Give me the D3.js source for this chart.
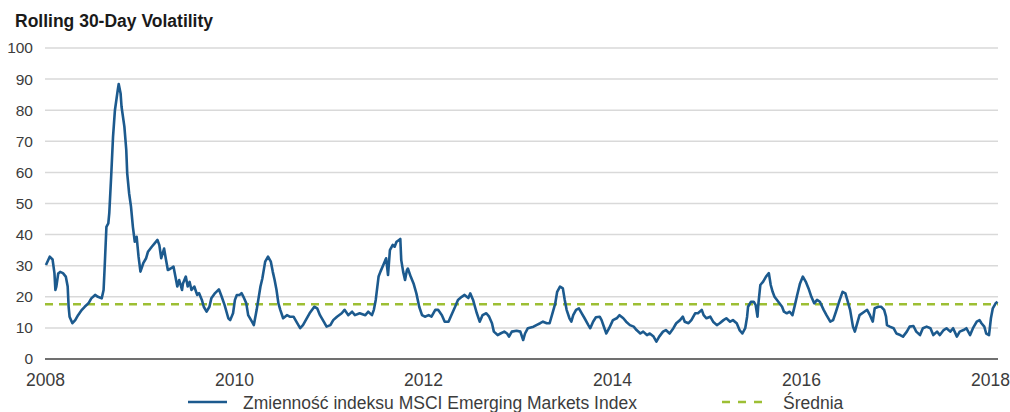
<!DOCTYPE html>
<html>
<head>
<meta charset="utf-8">
<script src="https://cdn.jsdelivr.net/npm/d3@7"></script>
<style>
  html, body { margin: 0; padding: 0; background: #fff; }
  svg { display: block; font-family: "Liberation Sans", Arial, sans-serif; }
</style>
</head>
<body>
<svg id="chart" width="1010" height="412"></svg>
<script>
const title = "Rolling 30-Day Volatility";
const seriesName = "Zmienność indeksu MSCI Emerging Markets Index";
const meanName = "Średnia";
const meanValue = 17.6;
const xTickValues = [2008, 2010, 2012, 2014, 2016, 2018];
const xTickLabels = ["2008", "2010", "2012", "2014", "2016", "2018"];
const yTickValues = [0, 10, 20, 30, 40, 50, 60, 70, 80, 90, 100];

const years = [
  2008.01,2008.05,2008.08,2008.10,2008.11,2008.12,2008.14,2008.16,2008.19,2008.22,
  2008.24,2008.25,2008.26,2008.29,2008.32,2008.35,2008.39,2008.42,2008.46,2008.49,
  2008.53,2008.56,2008.60,2008.62,2008.63,2008.65,2008.67,2008.68,2008.70,2008.72,
  2008.74,2008.77,2008.78,2008.80,2008.81,2008.84,2008.86,2008.87,2008.89,2008.91,
  2008.93,2008.95,2008.97,2008.99,
  2009.01,2009.04,2009.07,2009.09,2009.13,2009.16,2009.19,2009.21,2009.23,2009.26,
  2009.28,2009.30,2009.33,2009.36,2009.38,2009.40,2009.42,2009.45,2009.46,2009.49,
  2009.51,2009.53,2009.55,2009.58,2009.61,2009.63,2009.66,2009.68,2009.71,2009.74,
  2009.76,2009.80,2009.84,2009.87,2009.90,2009.94,2009.96,2009.99,
  2010.01,2010.03,2010.06,2010.08,2010.10,2010.13,2010.15,2010.19,2010.21,2010.24,
  2010.28,2010.30,2010.33,2010.36,2010.39,2010.41,2010.43,2010.45,2010.47,2010.49,
  2010.52,2010.56,2010.59,2010.63,2010.66,2010.70,2010.73,2010.77,2010.80,2010.85,
  2010.88,2010.91,2010.95,2010.98,
  2011.02,2011.05,2011.09,2011.14,2011.17,2011.21,2011.25,2011.28,2011.33,2011.39,
  2011.42,2011.46,2011.48,2011.50,2011.53,2011.55,2011.58,2011.61,2011.63,2011.65,
  2011.68,2011.70,2011.72,2011.75,2011.76,2011.77,2011.79,2011.81,2011.83,2011.84,
  2011.87,2011.90,2011.93,2011.96,2011.99,
  2012.02,2012.06,2012.09,2012.13,2012.16,2012.20,2012.23,2012.27,2012.30,2012.34,
  2012.37,2012.41,2012.44,2012.48,2012.50,2012.53,2012.55,2012.57,2012.60,2012.63,
  2012.67,2012.70,2012.73,2012.75,2012.79,2012.82,2012.86,2012.89,2012.91,2012.94,
  2012.99,
  2013.03,2013.06,2013.08,2013.11,2013.17,2013.20,2013.24,2013.27,2013.31,2013.34,
  2013.37,2013.40,2013.42,2013.45,2013.48,2013.50,2013.52,2013.55,2013.57,2013.59,
  2013.62,2013.65,2013.68,2013.71,2013.75,2013.77,2013.80,2013.83,2013.87,2013.89,
  2013.92,2013.94,2013.97,
  2014.01,2014.05,2014.08,2014.12,2014.15,2014.19,2014.23,2014.26,2014.30,2014.33,
  2014.37,2014.40,2014.44,2014.47,2014.50,2014.54,2014.57,2014.61,2014.65,2014.68,
  2014.72,2014.75,2014.77,2014.81,2014.84,2014.88,2014.91,2014.95,2014.97,
  2015.00,2015.04,2015.07,2015.11,2015.14,2015.18,2015.21,2015.25,2015.28,2015.32,
  2015.35,2015.38,2015.41,2015.43,2015.44,2015.47,2015.50,2015.52,2015.54,2015.55,
  2015.57,2015.60,2015.63,2015.66,2015.68,2015.70,2015.72,2015.76,2015.80,2015.82,
  2015.85,2015.88,2015.91,2015.94,2015.96,2015.99,
  2016.02,2016.05,2016.08,2016.11,2016.14,2016.17,2016.20,2016.24,2016.27,2016.31,
  2016.34,2016.37,2016.41,2016.44,2016.47,2016.49,2016.52,2016.55,2016.57,2016.60,
  2016.62,2016.67,2016.70,2016.73,2016.76,2016.78,2016.82,2016.85,2016.88,2016.90,
  2016.91,2016.94,2016.98,
  2017.01,2017.05,2017.08,2017.12,2017.15,2017.19,2017.22,2017.26,2017.29,2017.33,
  2017.37,2017.40,2017.44,2017.47,2017.51,2017.54,2017.58,2017.61,2017.65,2017.68,
  2017.72,2017.75,2017.79,2017.82,2017.86,2017.89,2017.91,2017.94,2017.96,2017.99,
  2018.01,2018.03,2018.06,2018.08
];

const volatility = [
  30.2,32.9,32.0,27.6,22.2,23.3,27.5,28.0,27.6,26.5,
  23.3,16.8,13.6,11.5,12.5,14.1,15.8,16.8,17.9,19.5,
  20.6,20.0,19.5,22.2,28.6,42.5,43.6,46.8,58.6,71.5,
  80.0,86.5,88.4,85.4,81.1,74.7,67.2,59.7,53.3,49.0,
  42.5,37.7,39.3,32.9,
  28.1,30.8,32.4,34.5,36.1,37.2,38.3,36.6,32.4,35.5,
  32.0,28.6,29.1,29.7,26.5,23.3,25.4,22.2,24.3,26.5,
  23.3,24.8,22.2,23.3,20.6,21.2,19.0,16.8,15.2,16.8,
  19.5,21.2,22.4,20.0,17.4,13.1,12.5,14.7,
  19.0,20.6,20.6,21.2,20.0,17.9,14.1,12.0,10.9,15.8,
  23.3,25.9,31.3,32.9,31.3,28.1,25.4,22.2,17.9,15.8,
  13.1,14.1,13.6,13.6,12.0,9.9,10.9,13.1,14.7,16.8,
  16.3,14.1,12.0,10.4,
  10.9,12.5,13.6,14.7,15.8,14.1,15.2,14.1,14.7,14.1,
  15.2,14.1,15.8,19.0,26.5,28.1,30.2,32.4,27.0,35.0,
  36.7,36.1,37.7,38.3,38.6,31.8,28.1,25.4,28.6,29.1,
  26.5,24.3,21.1,16.8,14.1,
  13.6,14.1,13.6,15.8,15.8,14.1,12.0,12.0,14.1,16.8,
  19.0,20.0,20.6,19.6,21.1,19.0,16.8,14.7,12.0,14.1,
  14.7,13.6,11.5,8.8,7.7,8.2,8.8,8.2,7.2,8.8,
  9.1,
  8.8,6.1,8.2,9.9,10.4,10.9,11.5,12.0,11.5,11.5,
  14.7,17.9,21.6,23.3,22.7,19.0,15.8,13.1,12.0,14.1,
  15.8,16.3,14.7,13.1,10.9,9.9,12.0,13.4,13.6,12.5,
  9.9,8.2,9.9,
  12.5,13.1,14.1,13.1,12.0,10.9,10.4,9.3,8.2,8.8,
  7.7,8.2,7.2,5.6,7.2,8.8,9.3,8.2,9.9,11.5,
  12.5,13.6,12.0,11.5,12.5,14.7,14.7,15.8,14.1,
  13.1,13.6,12.0,10.9,11.5,12.5,13.1,12.0,12.5,11.5,
  9.3,8.2,9.9,13.6,16.8,18.4,18.4,17.4,13.6,18.0,
  23.8,24.9,26.5,27.6,23.8,21.6,20.0,18.4,16.8,15.2,
  14.7,15.2,14.1,17.9,20.6,24.3,
  26.5,24.9,22.7,20.0,17.9,19.0,18.4,15.8,14.1,12.0,
  12.5,15.2,19.0,21.6,21.1,19.0,15.8,10.4,8.8,12.0,
  14.1,15.2,15.8,14.1,12.0,16.3,16.8,16.8,15.8,13.6,
  10.9,10.4,9.9,
  8.2,7.7,7.2,8.8,10.4,10.6,8.8,7.7,9.9,10.4,
  9.9,7.7,8.8,7.7,9.3,9.9,8.8,9.9,7.2,8.8,
  9.3,9.9,7.7,9.9,12.0,12.5,11.5,10.4,8.2,7.7,
  13.1,16.3,17.9,18.4
];

const data = years.map((y, i) => ({ t: y, v: volatility[i] }));

const svg = d3.select("#chart");
const W = 1010, H = 412;
const plotLeft = 45, plotRight = 998, plotTop = 48, plotBottom = 359;

const x = d3.scaleLinear().domain([2008, 2018.085]).range([plotLeft, plotRight]);
const y = d3.scaleLinear().domain([0, 100]).range([plotBottom, plotTop]);

// Title
svg.append("text")
  .attr("x", 15).attr("y", 27)
  .attr("font-size", 17.5).attr("font-weight", "bold")
  .attr("fill", "#1a1a1a")
  .text(title);

// Gridlines
svg.append("g").selectAll("line")
  .data(yTickValues.filter(d => d !== 0))
  .join("line")
  .attr("x1", plotLeft).attr("x2", plotRight)
  .attr("y1", d => y(d)).attr("y2", d => y(d))
  .attr("stroke", "#d9d9d9").attr("stroke-width", 1.5);

// Y axis labels
const yAxis = d3.axisLeft(y).tickValues(yTickValues).tickSize(0).tickPadding(12);
const gy = svg.append("g").attr("transform", `translate(${plotLeft},0)`).call(yAxis);
gy.select(".domain").remove();
gy.selectAll("text")
  .attr("font-size", 15.5).attr("fill", "#3c3c3c")
  .attr("font-family", "Liberation Sans, Arial, sans-serif");

// X axis
const xAxis = d3.axisBottom(x).tickValues(xTickValues)
  .tickFormat((d, i) => xTickLabels[i]).tickSize(0).tickPadding(15);
const gx = svg.append("g").attr("transform", `translate(0,${plotBottom})`).call(xAxis);
gx.select(".domain").attr("stroke", "#707070").attr("stroke-width", 2)
  .attr("d", `M${plotLeft},0H${plotRight}`);
gx.selectAll("text")
  .attr("font-size", 17.5).attr("fill", "#3c3c3c")
  .attr("font-family", "Liberation Sans, Arial, sans-serif");

// Mean line
svg.append("line")
  .attr("x1", plotLeft).attr("x2", plotRight)
  .attr("y1", y(meanValue)).attr("y2", y(meanValue))
  .attr("stroke", "#9dbf34").attr("stroke-width", 2.5)
  .attr("stroke-dasharray", "8,6");

// Series line
const line = d3.line().x(d => x(d.t)).y(d => y(d.v));
svg.append("path")
  .datum(data)
  .attr("fill", "none")
  .attr("stroke", "#1c5a8e")
  .attr("stroke-width", 2.6)
  .attr("stroke-linejoin", "round")
  .attr("d", line);

// Legend
const legY = 402;
svg.append("line")
  .attr("x1", 188).attr("x2", 227).attr("y1", legY).attr("y2", legY)
  .attr("stroke", "#1c5a8e").attr("stroke-width", 2.6);
svg.append("text")
  .attr("x", 243).attr("y", 409)
  .attr("font-size", 17.5).attr("fill", "#3c3c3c")
  .text(seriesName);
svg.append("line")
  .attr("x1", 722).attr("x2", 762).attr("y1", legY).attr("y2", legY)
  .attr("stroke", "#9dbf34").attr("stroke-width", 2.5)
  .attr("stroke-dasharray", "8,8");
svg.append("text")
  .attr("x", 783).attr("y", 409)
  .attr("font-size", 17.5).attr("fill", "#3c3c3c")
  .text(meanName);
</script>
</body>
</html>
